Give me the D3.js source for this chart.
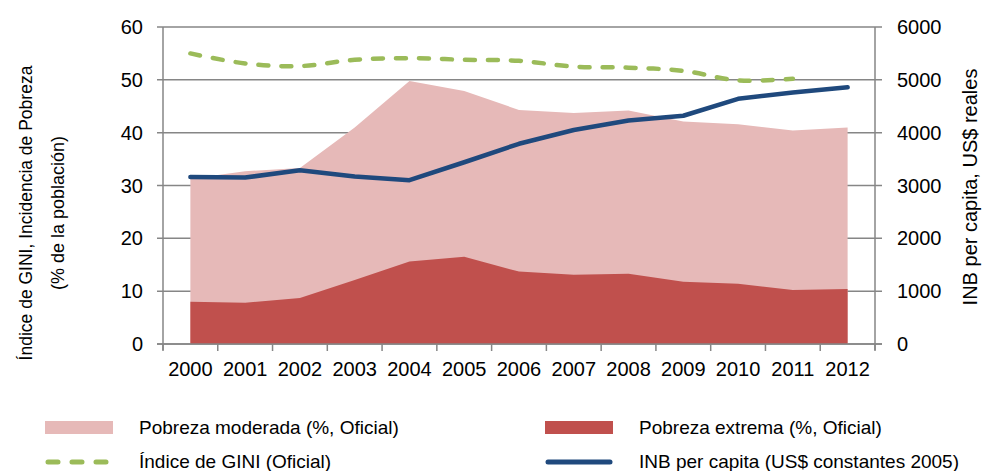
<!DOCTYPE html>
<html>
<head>
<meta charset="utf-8">
<script src="https://cdn.jsdelivr.net/npm/d3@7"></script>
<style>
  body { margin: 0; background: #fff; }
  text { font-family: "Liberation Sans", Arial, sans-serif; fill: #000; }
</style>
</head>
<body>
<div class="chart"></div>
<script>
// datos
var years = ["2000","2001","2002","2003","2004","2005","2006","2007","2008","2009","2010","2011","2012"];
var pobrezaModerada = [31.3, 32.7, 33.3, 41.0, 49.8, 47.9, 44.3, 43.7, 44.2, 42.1, 41.6, 40.4, 41.0];
var pobrezaExtrema = [8.0, 7.8, 8.7, 12.1, 15.6, 16.5, 13.7, 13.1, 13.3, 11.8, 11.4, 10.2, 10.4];
var gini = [55.0, 53.1, 52.6, 53.8, 54.1, 53.8, 53.6, 52.5, 52.3, 51.7, 49.9, 50.2];
var inb = [3160, 3150, 3290, 3170, 3100, 3440, 3790, 4050, 4230, 4320, 4640, 4760, 4860];
var leftTicks = [0, 10, 20, 30, 40, 50, 60];
var rightTicks = [0, 1000, 2000, 3000, 4000, 5000, 6000];

var W = 982, H = 471;
var pLeft = 163, pRight = 875, pTop = 27, pBottom = 344;
var grid = "#868686";

var svg = d3.select(".chart").append("svg")
    .attr("width", W)
    .attr("height", H);

var xBand = d3.scaleBand().domain(years).range([pLeft, pRight]);
var x = function(i) { return xBand(years[i]) + xBand.bandwidth() / 2; };
var yL = d3.scaleLinear().domain([0, 60]).range([pBottom, pTop]);
var yR = d3.scaleLinear().domain([0, 6000]).range([pBottom, pTop]);

// gridlines
svg.selectAll("line.grid").data(leftTicks).enter().append("line")
    .attr("x1", pLeft - 6).attr("x2", pRight + 7)
    .attr("y1", function(d) { return yL(d); })
    .attr("y2", function(d) { return yL(d); })
    .style("stroke", grid).style("stroke-width", 1.5);

// areas
var areaMod = d3.area()
    .x(function(d, i) { return x(i); })
    .y0(yL(0))
    .y1(function(d) { return yL(d); });
svg.append("path").datum(pobrezaModerada)
    .attr("d", areaMod)
    .style("fill", "#E6B9B8");
svg.append("path").datum(pobrezaExtrema)
    .attr("d", areaMod)
    .style("fill", "#C0504D");

// axes lines
svg.append("line").attr("x1", pLeft).attr("x2", pLeft).attr("y1", pTop).attr("y2", pBottom + 6)
    .style("stroke", grid).style("stroke-width", 1.5);
svg.append("line").attr("x1", pRight).attr("x2", pRight).attr("y1", pTop).attr("y2", pBottom + 6)
    .style("stroke", grid).style("stroke-width", 1.5);
svg.append("line").attr("x1", pLeft - 6).attr("x2", pRight + 7).attr("y1", pBottom).attr("y2", pBottom)
    .style("stroke", grid).style("stroke-width", 1.5);

// category ticks
var bounds = years.map(function(y) { return xBand(y); }).concat([pRight]);
svg.selectAll("line.ct").data(bounds).enter().append("line")
    .attr("x1", function(d) { return d; }).attr("x2", function(d) { return d; })
    .attr("y1", pBottom).attr("y2", pBottom + 7)
    .style("stroke", grid).style("stroke-width", 1.5);

// gini line
var lineG = d3.line()
    .x(function(d, i) { return x(i); })
    .y(function(d) { return yL(d); })
    .curve(d3.curveCatmullRom);
svg.append("path").datum(gini)
    .attr("d", lineG)
    .style("fill", "none")
    .style("stroke", "#9BBB59")
    .style("stroke-width", 4.5)
    .style("stroke-linecap", "round")
    .style("stroke-dasharray", "10,13");

// inb line
var lineI = d3.line()
    .x(function(d, i) { return x(i); })
    .y(function(d) { return yR(d); });
svg.append("path").datum(inb)
    .attr("d", lineI)
    .style("fill", "none")
    .style("stroke", "#1F497D")
    .style("stroke-width", 4.5)
    .style("stroke-linejoin", "round")
    .style("stroke-linecap", "round");

// tick labels
svg.selectAll("text.yl").data(leftTicks).enter().append("text")
    .text(function(d) { return d; })
    .attr("x", 143).attr("y", function(d) { return yL(d) + 7; })
    .attr("text-anchor", "end")
    .style("font-size", "20px");
svg.selectAll("text.yr").data(rightTicks).enter().append("text")
    .text(function(d) { return d; })
    .attr("x", 897).attr("y", function(d) { return yR(d) + 7; })
    .style("font-size", "20px");
svg.selectAll("text.xl").data(years).enter().append("text")
    .text(function(d) { return d; })
    .attr("x", function(d, i) { return x(i); }).attr("y", 376)
    .attr("text-anchor", "middle")
    .style("font-size", "20px");

// axis titles
svg.append("text")
    .attr("transform", "translate(32,213) rotate(-90)")
    .attr("text-anchor", "middle")
    .style("font-size", "17.5px")
    .text("Índice de GINI, Incidencia de Pobreza");
svg.append("text")
    .attr("transform", "translate(64,213) rotate(-90)")
    .attr("text-anchor", "middle")
    .style("font-size", "18px")
    .text("(% de la población)");
svg.append("text")
    .attr("transform", "translate(977,187) rotate(-90)")
    .attr("text-anchor", "middle")
    .style("font-size", "20px")
    .text("INB per capita, US$ reales");

// legend
var legend = [
    {name: "Pobreza moderada (%, Oficial)", type: "rect", color: "#E6B9B8", x: 45, y: 428},
    {name: "Pobreza extrema (%, Oficial)", type: "rect", color: "#C0504D", x: 545, y: 428},
    {name: "Índice de GINI (Oficial)", type: "dash", color: "#9BBB59", x: 45, y: 462},
    {name: "INB per capita (US$ constantes 2005)", type: "line", color: "#1F497D", x: 545, y: 462}
];
legend.forEach(function(l) {
    if (l.type == "rect") {
        svg.append("rect").attr("x", l.x).attr("y", l.y - 7).attr("width", 68).attr("height", 13)
            .style("fill", l.color);
    } else {
        svg.append("line").attr("x1", l.x + 3).attr("x2", l.x + 65).attr("y1", l.y).attr("y2", l.y)
            .style("stroke", l.color).style("stroke-width", 5)
            .style("stroke-linecap", "round")
            .style("stroke-dasharray", l.type == "dash" ? "10,14" : null);
    }
    svg.append("text").attr("x", l.x + 94).attr("y", l.y + 6)
        .style("font-size", "19px")
        .text(l.name);
});
</script>
</body>
</html>
